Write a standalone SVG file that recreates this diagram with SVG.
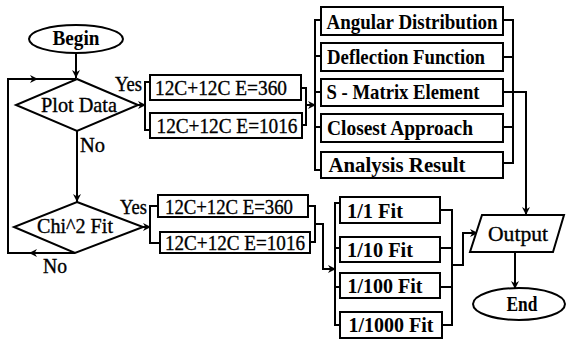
<svg xmlns="http://www.w3.org/2000/svg" width="566" height="343" viewBox="0 0 566 343">
  <style>
    .shape { fill: #fff; stroke: #000; stroke-width: 2; }
    .wire { fill: none; stroke: #000; stroke-width: 2; }
    .t { font-family: "Liberation Serif", "Times New Roman", serif; font-size: 21px; fill: #000; stroke: #000; stroke-width: 0.35; text-anchor: middle; }
    .b { font-weight: bold; stroke-width: 0; }
    .lbl { font-family: "Liberation Serif", "Times New Roman", serif; font-size: 20px; fill: #000; stroke: #000; stroke-width: 0.35; }
  </style>
  <defs>
    <marker id="ah" viewBox="0 0 10 10" refX="10" refY="5" markerWidth="9" markerHeight="8" orient="auto" markerUnits="userSpaceOnUse">
      <path d="M0,0 L10,5 L0,10 L3,5 z" fill="#000"/>
    </marker>
  </defs>

  <!-- connectors -->
  <g id="connectors">
    <!-- start into decision -->
    <path class="wire" d="M76,53 V78" marker-end="url(#ah)"/>
    <!-- retry loop from the fit test back to the plot test -->
    <path class="wire" d="M75,253 H29" marker-end="url(#ah)"/>
    <path class="wire" d="M30,253 H8 V79 H38" marker-end="url(#ah)"/>
    <path class="wire" d="M37,79 H76"/>
    <!-- Plot Data: yes -->
    <path class="wire" d="M138,105 H146" marker-end="url(#ah)"/>
    <path class="wire" d="M150,82 H145 V130 H150"/>
    <path class="wire" d="M301,88 H306 V125 H302"/>
    <path class="wire" d="M306,105 H316" marker-end="url(#ah)"/>
    <!-- result bracket -->
    <path class="wire" d="M321,20 H315 V170 H321 M315,56 H321 M315,92 H321 M315,127 H321"/>
    <path class="wire" d="M503,20 H513 V163 H503 M503,57 H513 M503,127 H513"/>
    <path class="wire" d="M503,92 H526 V215" marker-end="url(#ah)"/>
    <!-- Plot Data: no -->
    <path class="wire" d="M77,131 V202" marker-end="url(#ah)"/>
    <!-- Chi^2 Fit: yes -->
    <path class="wire" d="M143,227 H151" marker-end="url(#ah)"/>
    <path class="wire" d="M158,206 H150 V243 H160"/>
    <path class="wire" d="M308,206 H315 V242 H310"/>
    <path class="wire" d="M315,224 H323 V269 H336" marker-end="url(#ah)"/>
    <!-- fit bracket -->
    <path class="wire" d="M340,203 H335 V325 H340 M335,248 H340 M335,287 H340"/>
    <path class="wire" d="M440,210 H452 V325 H442 M440,248 H452 M440,287 H452"/>
    <path class="wire" d="M452,265 H463 V233 H478" marker-end="url(#ah)"/>
    <!-- output to end -->
    <path class="wire" d="M515,252 V289" marker-end="url(#ah)"/>
  </g>

  <g id="begin">
    <ellipse class="shape" cx="76" cy="39" rx="47" ry="14"/>
    <text class="t b" x="76" y="45" textLength="47" lengthAdjust="spacingAndGlyphs">Begin</text>
  </g>

  <g id="plot-data">
    <polygon class="shape" points="77,79 138,105 77,131 16,105"/>
    <text class="t" x="79" y="112" textLength="76" lengthAdjust="spacingAndGlyphs">Plot Data</text>
  </g>

  <g id="chi2-fit">
    <polygon class="shape" points="77,202 143,227 75,253 14,227"/>
    <text class="t" x="75" y="233" textLength="76" lengthAdjust="spacingAndGlyphs">Chi^2 Fit</text>
  </g>

  <g id="labels">
    <text class="lbl" x="115" y="91" textLength="27" lengthAdjust="spacingAndGlyphs">Yes</text>
    <text class="lbl" x="80" y="152" textLength="25" lengthAdjust="spacingAndGlyphs">No</text>
    <text class="lbl" x="120" y="214" textLength="27" lengthAdjust="spacingAndGlyphs">Yes</text>
    <text class="lbl" x="43" y="273" textLength="24" lengthAdjust="spacingAndGlyphs">No</text>
  </g>

  <g id="plot-e360">
    <rect class="shape" x="150" y="75" width="151" height="25"/>
    <text class="t" x="221" y="95" textLength="132" lengthAdjust="spacingAndGlyphs">12C+12C E=360</text>
  </g>
  <g id="plot-e1016">
    <rect class="shape" x="150" y="113" width="152" height="25"/>
    <text class="t" x="227" y="133" textLength="141" lengthAdjust="spacingAndGlyphs">12C+12C E=1016</text>
  </g>

  <g id="angular-distribution">
    <rect class="shape" x="321" y="7" width="182" height="28"/>
    <text class="t b" x="412" y="29" textLength="171" lengthAdjust="spacingAndGlyphs">Angular Distribution</text>
  </g>
  <g id="deflection-function">
    <rect class="shape" x="321" y="43" width="182" height="28"/>
    <text class="t b" x="406" y="64" textLength="158" lengthAdjust="spacingAndGlyphs">Deflection Function</text>
  </g>
  <g id="s-matrix-element">
    <rect class="shape" x="321" y="79" width="182" height="27"/>
    <text class="t b" x="403" y="99" textLength="153" lengthAdjust="spacingAndGlyphs">S - Matrix Element</text>
  </g>
  <g id="closest-approach">
    <rect class="shape" x="321" y="114" width="182" height="28"/>
    <text class="t b" x="400" y="135" textLength="146" lengthAdjust="spacingAndGlyphs">Closest Approach</text>
  </g>
  <g id="analysis-result">
    <rect class="shape" x="321" y="152" width="182" height="26"/>
    <text class="t b" x="397" y="172" textLength="137" lengthAdjust="spacingAndGlyphs">Analysis Result</text>
  </g>

  <g id="fit-e360">
    <rect class="shape" x="158" y="195" width="150" height="22"/>
    <text class="t" x="229" y="214" textLength="128" lengthAdjust="spacingAndGlyphs">12C+12C E=360</text>
  </g>
  <g id="fit-e1016">
    <rect class="shape" x="160" y="232" width="150" height="21"/>
    <text class="t" x="235" y="250" textLength="140" lengthAdjust="spacingAndGlyphs">12C+12C E=1016</text>
  </g>

  <g id="fit-1-1">
    <rect class="shape" x="340" y="197" width="100" height="26"/>
    <text class="t b" x="375" y="218" textLength="56" lengthAdjust="spacingAndGlyphs">1/1 Fit</text>
  </g>
  <g id="fit-1-10">
    <rect class="shape" x="340" y="237" width="100" height="25"/>
    <text class="t b" x="380" y="257" textLength="66" lengthAdjust="spacingAndGlyphs">1/10 Fit</text>
  </g>
  <g id="fit-1-100">
    <rect class="shape" x="340" y="273" width="100" height="25"/>
    <text class="t b" x="385" y="293" textLength="75" lengthAdjust="spacingAndGlyphs">1/100 Fit</text>
  </g>
  <g id="fit-1-1000">
    <rect class="shape" x="340" y="312" width="102" height="26"/>
    <text class="t b" x="391" y="332" textLength="85" lengthAdjust="spacingAndGlyphs">1/1000 Fit</text>
  </g>

  <g id="output">
    <polygon class="shape" points="482,215 564,215 553,252 470,252"/>
    <text class="t" x="518" y="241" textLength="60" lengthAdjust="spacingAndGlyphs">Output</text>
  </g>

  <g id="end">
    <ellipse class="shape" cx="519" cy="304" rx="46" ry="16"/>
    <text class="t b" x="522" y="311" textLength="31" lengthAdjust="spacingAndGlyphs">End</text>
  </g>
</svg>
